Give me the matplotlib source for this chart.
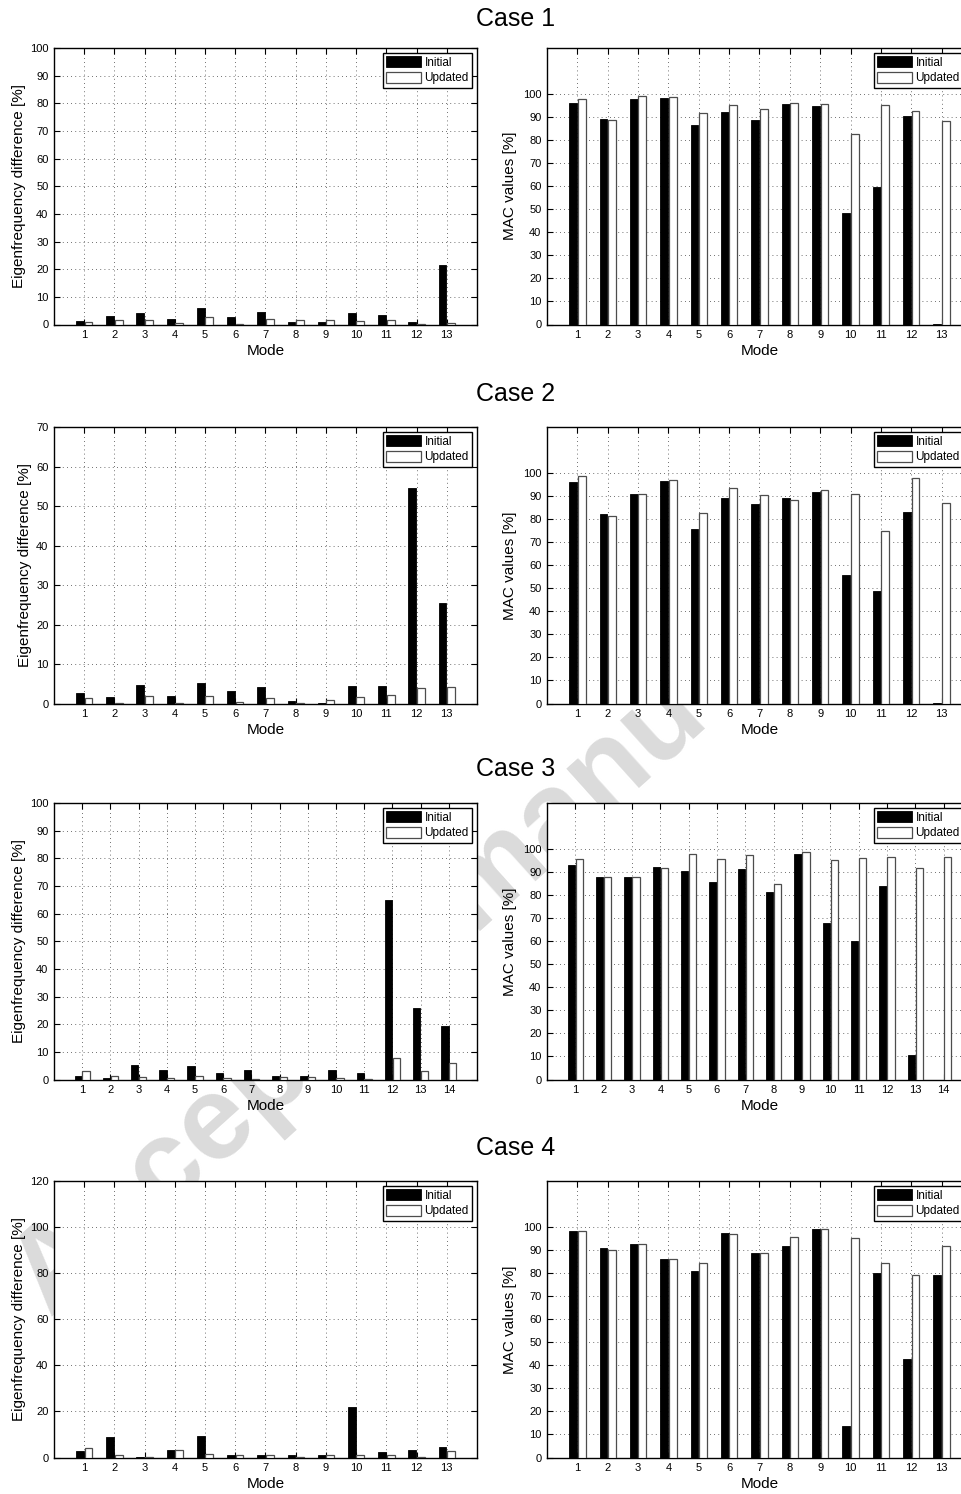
import numpy as np
import matplotlib
matplotlib.use("Agg")
import matplotlib.pyplot as plt

plt.rcParams['font.family'] = ['Liberation Sans', 'DejaVu Sans']

# --- data ---
case_titles = ["Case 1", "Case 2", "Case 3", "Case 4"]
legend_labels = ["Initial", "Updated"]

case1_freq_initial = [1.2, 3.1, 4.3, 1.9, 6.0, 2.6, 4.6, 0.9, 1.0, 4.1, 3.4, 0.8, 21.6]
case1_freq_updated = [0.9, 1.6, 1.5, 0.4, 2.6, 0.3, 2.0, 1.5, 1.6, 1.4, 1.8, 0.1, 0.7]
case1_mac_initial = [96.1, 89.1, 98.0, 98.3, 86.5, 92.3, 88.7, 95.7, 94.8, 48.6, 59.8, 90.6, 0.4]
case1_mac_updated = [98.0, 88.7, 99.3, 98.7, 91.8, 95.1, 93.6, 96.2, 95.5, 82.5, 95.2, 92.5, 88.3]

case2_freq_initial = [2.7, 1.7, 4.8, 1.8, 5.3, 3.1, 4.3, 0.6, 0.25, 4.4, 4.5, 54.5, 25.5]
case2_freq_updated = [1.3, 0.2, 1.9, 0.25, 1.8, 0.4, 1.5, 0.15, 0.9, 1.6, 2.2, 3.9, 4.2]
case2_mac_initial = [96.1, 82.1, 91.0, 96.5, 75.7, 89.0, 86.6, 89.3, 91.9, 55.8, 48.8, 82.9, 0.4]
case2_mac_updated = [98.6, 81.2, 90.9, 97.0, 82.7, 93.6, 90.6, 88.4, 92.6, 90.9, 74.7, 97.7, 86.8]

case3_freq_initial = [1.4, 0.7, 5.1, 3.6, 4.8, 2.2, 3.3, 1.3, 1.2, 3.3, 2.5, 64.9, 25.7, 19.4]
case3_freq_updated = [2.9, 1.3, 0.8, 0.4, 1.1, 0.7, 0.25, 1.0, 0.85, 0.4, 0.2, 7.8, 3.0, 5.9]
case3_mac_initial = [93.2, 88.0, 88.0, 92.2, 90.6, 85.7, 91.2, 81.4, 98.0, 68.1, 60.1, 83.8, 10.7, 0.0]
case3_mac_updated = [95.7, 88.0, 88.0, 92.0, 97.8, 95.8, 97.4, 84.8, 98.7, 95.2, 96.0, 96.5, 91.9, 96.4]

case4_freq_initial = [2.7, 8.8, 0.4, 3.3, 9.4, 1.2, 0.9, 1.2, 1.0, 21.9, 2.4, 3.3, 4.6]
case4_freq_updated = [4.2, 1.0, 0.15, 3.2, 1.4, 1.3, 1.0, 0.2, 1.0, 1.0, 1.3, 0.2, 2.9]
case4_mac_initial = [98.4, 91.0, 92.8, 86.3, 81.0, 97.3, 88.9, 91.8, 99.3, 13.7, 80.0, 42.8, 79.4]
case4_mac_updated = [98.1, 90.0, 92.5, 86.1, 84.4, 97.1, 88.9, 95.5, 99.1, 95.1, 84.4, 79.3, 91.6]

freq_ymax = [100, 70, 100, 120]
freq_ystep = [10, 10, 10, 20]
mac_ymax = 120
mac_yticks = [0, 10, 20, 30, 40, 50, 60, 70, 80, 90, 100]

cases = [
    (case1_freq_initial, case1_freq_updated, case1_mac_initial, case1_mac_updated),
    (case2_freq_initial, case2_freq_updated, case2_mac_initial, case2_mac_updated),
    (case3_freq_initial, case3_freq_updated, case3_mac_initial, case3_mac_updated),
    (case4_freq_initial, case4_freq_updated, case4_mac_initial, case4_mac_updated),
]

# --- layout (pixels of a 962x1494 canvas) ---
W, H = 962, 1494
fig = plt.figure(figsize=(W / 100, H / 100), dpi=100)

row_tops = [48, 427, 803, 1181]
row_h = 276.5
title_y = [19, 394, 769, 1148]
left_x, left_w = 54, 423
right_x, right_w = 547, 425

BAR_W = 0.26
OFF = 0.14


def px_rect(x, top, w, h):
    return [x / W, 1 - (top + h) / H, w / W, h / H]


def style_axes(ax, n, ymax, yticks):
    ax.set_xlim(0, n + 1)
    ax.set_ylim(0, ymax)
    ax.set_xticks(np.arange(1, n + 1))
    ax.set_yticks(yticks)
    ax.tick_params(direction="in", top=True, right=True, length=4, width=0.8,
                   labelsize=8, pad=4)
    ax.grid(True, linestyle=(0, (1, 4)), color="0.25", linewidth=0.6)
    ax.set_axisbelow(True)
    for sp in ax.spines.values():
        sp.set_linewidth(1.0)
    ax.set_xlabel("Mode", fontsize=11, labelpad=2.5)


def draw_bars(ax, a, b, legend_right):
    x = np.arange(1, len(a) + 1)
    ax.bar(x - OFF, a, BAR_W, color="black", edgecolor="black", linewidth=0.6,
           label=legend_labels[0], zorder=3)
    ax.bar(x + OFF, b, BAR_W, color="white", edgecolor="0.3", linewidth=0.9,
           label=legend_labels[1], zorder=3)
    leg = ax.legend(loc="upper right", bbox_to_anchor=(legend_right, 0.982),
                    fontsize=8.5, handlelength=2.95, handleheight=1.0,
                    labelspacing=0.3, borderpad=0.28, handletextpad=0.3,
                    borderaxespad=0.0, fancybox=False, framealpha=1)
    leg.get_frame().set_edgecolor("black")
    leg.get_frame().set_linewidth(1.0)


for i, (fi, fu, mi, mu) in enumerate(cases):
    n = len(fi)
    top = row_tops[i]

    ax1 = fig.add_axes(px_rect(left_x, top, left_w, row_h))
    ax1.set_zorder(1)
    draw_bars(ax1, fi, fu, (472 - left_x) / left_w)
    style_axes(ax1, n, freq_ymax[i], np.arange(0, freq_ymax[i] + 1, freq_ystep[i]))
    ax1.set_ylabel("Eigenfrequency difference [%]", fontsize=11, labelpad=3)

    ax2 = fig.add_axes(px_rect(right_x, top, right_w, row_h))
    ax2.set_zorder(1)
    draw_bars(ax2, mi, mu, (963 - right_x) / right_w)
    style_axes(ax2, n, mac_ymax, mac_yticks)
    ax2.set_ylabel("MAC values [%]", fontsize=11, labelpad=4)

    fig.text(516 / W, 1 - title_y[i] / H, case_titles[i], fontsize=18,
             ha="center", va="center")

# faint watermark, only visible between the axes
fig.text(50 / W, 1 - 1318 / H, "Accepted manu", fontsize=86, weight="bold",
         color="0.86", rotation=42, rotation_mode="anchor", ha="left", va="baseline",
         zorder=0)

fig.savefig("out.png", dpi=100)
